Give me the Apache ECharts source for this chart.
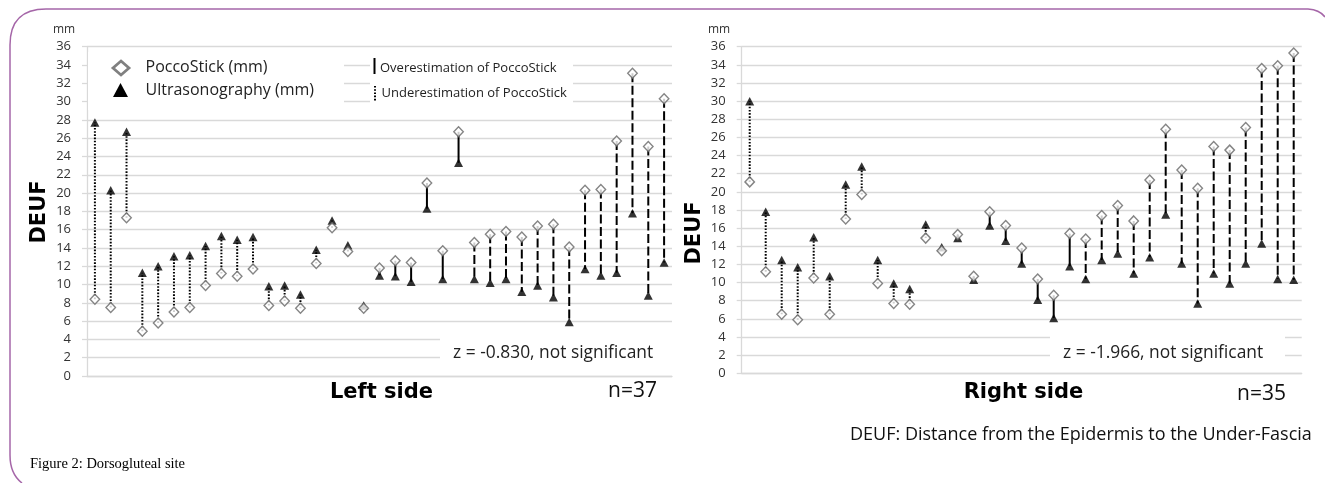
<!DOCTYPE html>
<html><head><meta charset="utf-8">
<script src="https://cdn.jsdelivr.net/npm/echarts@6/dist/echarts.min.js"></script>
<style>html,body{margin:0;padding:0;background:#fff}#c{width:1325px;height:483px}</style>
</head><body><div id="c"></div>
<script>
// ---- data ----
const leftCategories = ['1','2','3','4','5','6','7','8','9','10','11','12','13','14','15','16','17','18','19','20','21','22','23','24','25','26','27','28','29','30','31','32','33','34','35','36','37'];
const leftPocco = [8.4, 7.5, 17.3, 4.9, 5.8, 7.0, 7.5, 9.9, 11.2, 10.9, 11.7, 7.7, 8.2, 7.4, 12.3, 16.2, 13.6, 7.4, 11.8, 12.6, 12.4, 21.1, 13.7, 26.7, 14.6, 15.5, 15.8, 15.2, 16.4, 16.6, 14.1, 20.3, 20.4, 25.7, 33.1, 25.1, 30.3];
const leftUltra = [27.7, 20.3, 26.7, 11.3, 12.0, 13.1, 13.2, 14.2, 15.3, 14.9, 15.2, 9.8, 9.9, 8.9, 13.8, 17.0, 14.3, 7.7, 11.0, 10.9, 10.3, 18.3, 10.6, 23.3, 10.6, 10.2, 10.6, 9.2, 9.9, 8.6, 5.9, 11.7, 11.0, 11.3, 17.8, 8.8, 12.4];
const rightCategories = ['1','2','3','4','5','6','7','8','9','10','11','12','13','14','15','16','17','18','19','20','21','22','23','24','25','26','27','28','29','30','31','32','33','34','35'];
const rightPocco = [21.1, 11.2, 6.5, 5.9, 10.5, 6.5, 17.0, 19.7, 9.9, 7.7, 7.6, 14.9, 13.5, 15.3, 10.7, 17.8, 16.3, 13.8, 10.4, 8.6, 15.4, 14.8, 17.4, 18.5, 16.8, 21.3, 26.9, 22.4, 20.4, 25.0, 24.6, 27.1, 33.6, 33.9, 35.3];
const rightUltra = [30.0, 17.8, 12.5, 11.7, 15.0, 10.7, 20.8, 22.8, 12.5, 9.9, 9.3, 16.4, 13.9, 14.9, 10.3, 16.3, 14.6, 12.1, 8.1, 6.1, 11.8, 10.4, 12.5, 13.2, 11.0, 12.8, 17.5, 12.1, 7.7, 11.0, 9.9, 12.1, 14.3, 10.4, 10.3];
const yMin = 0, yMax = 36, yStep = 2;
const leftStat = 'z = -0.830, not significant';
const rightStat = 'z = -1.966, not significant';

// ---- chart ----
const chart = echarts.init(document.getElementById('c'));
const FONT = 'Open Sans';
const gridColor = '#d9d9d9';
const frameColor = '#a566a8';

function connectors(pocco, ultra) {
  return pocco.map((p, i) => [i, p, ultra[i]]);
}
function renderConnector(params, api) {
  const i = api.value(0), p = api.value(1), u = api.value(2);
  const a = api.coord([i, p]), b = api.coord([i, u]);
  let dash = null;
  if (u > p) dash = [1.6, 1.6];
  else if (p - u >= 3.8) dash = [9, 3.5];
  return {
    type: 'line',
    shape: { x1: a[0], y1: a[1], x2: b[0], y2: b[1] },
    style: { stroke: '#000', lineWidth: 2, lineDash: dash }
  };
}
function yAxis(gi) {
  return {
    type: 'value', gridIndex: gi, min: yMin, max: yMax, interval: yStep,
    axisLine: { show: true, lineStyle: { color: gridColor, width: 1.3 } },
    axisTick: { show: true, length: 5, lineStyle: { color: gridColor, width: 1.3 } },
    splitLine: { lineStyle: { color: gridColor, width: 1.3 } },
    axisLabel: { fontFamily: FONT, fontSize: 13, color: '#333', margin: 16 }
  };
}
function xAxis(gi, cats) {
  return {
    type: 'category', gridIndex: gi, data: cats, boundaryGap: true,
    axisLine: { show: true, lineStyle: { color: gridColor, width: 1.3 } },
    axisTick: { show: false }, axisLabel: { show: false }, splitLine: { show: false }
  };
}
const diamondStyle = { color: '#fff', borderColor: '#666', borderWidth: 1.4 };
const triStyle = { color: '#000' };

function whiteBox(x, y, w, h) {
  return { type: 'rect', z: 1, shape: { x, y, width: w, height: h }, style: { fill: '#fff' }, silent: true };
}
function txt(x, y, text, size, opts) {
  return { type: 'text', z: 10, x, y, style: Object.assign({ text, fontFamily: FONT, fontSize: size, fill: '#000', textVerticalAlign: 'middle', textAlign: 'left' }, opts || {}) };
}
function frameLine(x1, y1, x2, y2) {
  return { type: 'line', z: 0, shape: { x1, y1, x2, y2 }, style: { stroke: frameColor, lineWidth: 1.5 } };
}
function frameCurve(x1, y1, cx, cy, x2, y2) {
  return { type: 'bezierCurve', z: 0, shape: { x1, y1, cpx1: cx, cpy1: cy, x2, y2 }, style: { stroke: frameColor, lineWidth: 1.5, fill: null } };
}

chart.setOption({
  animation: false,
  grid: [
    { left: 87, top: 46.7, width: 585, height: 329.3 },
    { left: 741.7, top: 46.7, width: 560, height: 326.6 }
  ],
  xAxis: [xAxis(0, leftCategories), xAxis(1, rightCategories)],
  yAxis: [yAxis(0), yAxis(1)],
  series: [
    { type: 'custom', xAxisIndex: 0, yAxisIndex: 0, renderItem: renderConnector, data: connectors(leftPocco, leftUltra), z: 3, silent: true },
    { type: 'scatter', xAxisIndex: 0, yAxisIndex: 0, data: leftUltra, symbol: 'triangle', symbolSize: [9, 8.5], itemStyle: triStyle, z: 4 },
    { type: 'scatter', xAxisIndex: 0, yAxisIndex: 0, data: leftPocco, symbol: 'diamond', symbolSize: [9.5, 10], itemStyle: diamondStyle, z: 5 },
    { type: 'custom', xAxisIndex: 1, yAxisIndex: 1, renderItem: renderConnector, data: connectors(rightPocco, rightUltra), z: 3, silent: true },
    { type: 'scatter', xAxisIndex: 1, yAxisIndex: 1, data: rightUltra, symbol: 'triangle', symbolSize: [9, 8.5], itemStyle: triStyle, z: 4 },
    { type: 'scatter', xAxisIndex: 1, yAxisIndex: 1, data: rightPocco, symbol: 'diamond', symbolSize: [9.5, 10], itemStyle: diamondStyle, z: 5 }
  ],
  graphic: { elements: [
    // frame
    frameCurve(22, 483, 10, 474, 10, 455),
    frameLine(10, 455, 10, 45),
    frameCurve(10, 45, 10, 9, 46, 9),
    frameLine(46, 9, 1308, 9),
    frameCurve(1308, 9, 1320, 10, 1325, 17),
    // legend cover boxes
    whiteBox(88, 52, 256, 58),
    whiteBox(370, 52, 203, 58),
    whiteBox(440, 330, 232, 40),
    whiteBox(1050, 328, 235, 38),
    // legend 1
    { type: 'polygon', z: 10, shape: { points: [[121, 61], [129, 68], [121, 75], [113, 68]] }, style: { fill: '#fff', stroke: '#808080', lineWidth: 2.8 } },
    { type: 'polygon', z: 10, shape: { points: [[120.5, 83], [128, 97], [113, 97]] }, style: { fill: '#000' } },
    txt(145.5, 67.5, 'PoccoStick (mm)', 16, { fill: '#222' }),
    txt(145.5, 90, 'Ultrasonography (mm)', 16, { fill: '#222' }),
    // legend 2
    { type: 'line', z: 10, shape: { x1: 374.5, y1: 58, x2: 374.5, y2: 74 }, style: { stroke: '#000', lineWidth: 2 } },
    { type: 'line', z: 10, shape: { x1: 375, y1: 86, x2: 375, y2: 102 }, style: { stroke: '#000', lineWidth: 2, lineDash: [1.6, 1.6] } },
    txt(380, 68.5, 'Overestimation of PoccoStick', 13, { fill: '#222' }),
    txt(381.5, 93.5, 'Underestimation of PoccoStick', 13, { fill: '#222' }),
    // stats
    txt(453, 353.5, leftStat, 17.4, { fill: '#222' }),
    txt(1063, 353.5, rightStat, 17.4, { fill: '#222' }),
    // unit labels
    txt(53, 30, 'mm', 12, { fill: '#333' }),
    txt(708, 30, 'mm', 12, { fill: '#333' }),
    // y axis names
    { type: 'text', z: 10, x: 40, y: 212, rotation: Math.PI / 2, style: { text: 'DEUF', fontFamily: 'DejaVu Sans', fontWeight: 'bold', fontSize: 21, fill: '#000', textAlign: 'center', textVerticalAlign: 'middle' } },
    { type: 'text', z: 10, x: 695, y: 233, rotation: Math.PI / 2, style: { text: 'DEUF', fontFamily: 'DejaVu Sans', fontWeight: 'bold', fontSize: 21, fill: '#000', textAlign: 'center', textVerticalAlign: 'middle' } },
    // x axis names
    { type: 'text', z: 10, x: 381.5, y: 393, style: { text: 'Left side', fontFamily: 'DejaVu Sans', fontWeight: 'bold', fontSize: 21, fill: '#000', textAlign: 'center', textVerticalAlign: 'middle' } },
    { type: 'text', z: 10, x: 1023.5, y: 393, style: { text: 'Right side', fontFamily: 'DejaVu Sans', fontWeight: 'bold', fontSize: 21, fill: '#000', textAlign: 'center', textVerticalAlign: 'middle' } },
    txt(608, 391, 'n=37', 21, { fill: '#111' }),
    txt(1237, 394, 'n=35', 21, { fill: '#111' }),
    txt(850, 435, 'DEUF: Distance from the Epidermis to the Under-Fascia', 18, { fill: '#111' }),
    { type: 'text', z: 10, x: 30, y: 464, style: { text: 'Figure 2: Dorsogluteal site', fontFamily: 'Liberation Serif', fontSize: 14.5, fill: '#000', textAlign: 'left', textVerticalAlign: 'middle' } }
  ] }
});
</script></body></html>
